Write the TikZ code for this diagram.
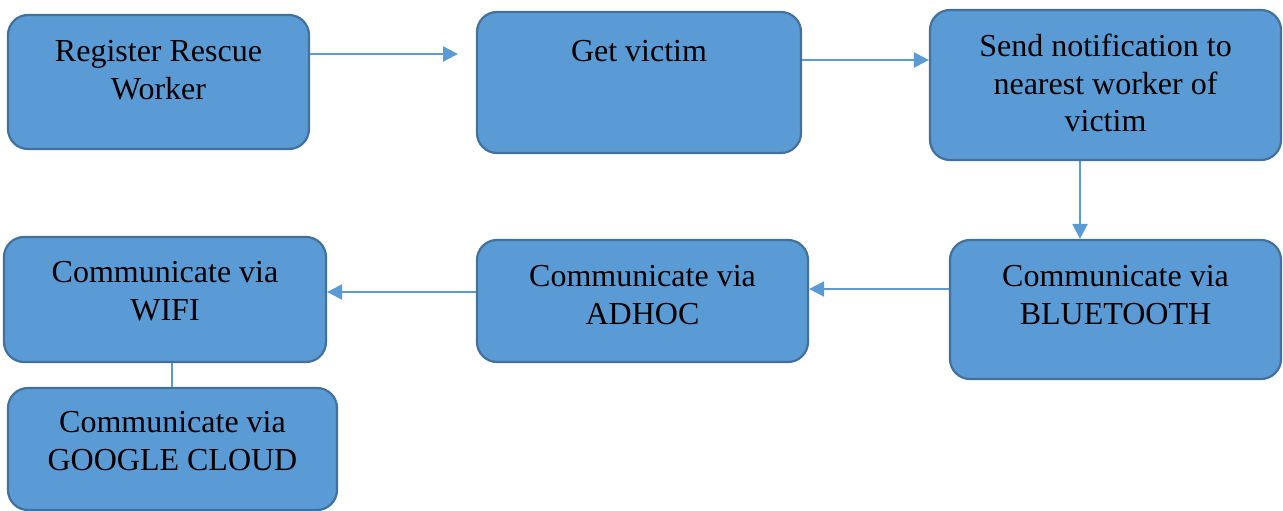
\documentclass[tikz,border=0pt]{standalone}
\usepackage{fontspec}
\setmainfont{Liberation Serif}
\usetikzlibrary{arrows.meta}
\definecolor{boxfill}{HTML}{5B9BD5}
\definecolor{boxline}{HTML}{41719C}
\definecolor{arrowc}{HTML}{5B9BD5}
\tikzset{
  box/.style={draw=boxline, fill=boxfill, line width=2.2pt, rounded corners=20pt, rectangle, inner sep=0pt},
  boxtext/.style={anchor=north, inner sep=0pt, align=center, font=\fontsize{32}{37.5}\selectfont},
  conn/.style={draw=arrowc, line width=2.3pt, -{Triangle[length=15pt,width=15pt]}},
  plainconn/.style={draw=arrowc, line width=2.3pt}
}
\begin{document}
\begin{tikzpicture}[x=1pt,y=-1pt]
\useasboundingbox (0,0) rectangle (1283,511);
% boxes
\node[box, minimum width=301pt, minimum height=134pt] (b1) at (158.5,82) {};
\node[box, minimum width=324pt, minimum height=141pt] (b2) at (639,82.5) {};
\node[box, minimum width=351pt, minimum height=150pt] (b3) at (1105.5,85) {};
\node[box, minimum width=331pt, minimum height=139pt] (b4) at (1115.5,309.5) {};
\node[box, minimum width=331pt, minimum height=122pt] (b5) at (642.5,301) {};
\node[box, minimum width=322pt, minimum height=125pt] (b6) at (165,299.5) {};
\node[box, minimum width=329pt, minimum height=122pt] (b7) at (172.5,449) {};
% texts (first baseline = top + offset; strut height 26.25)
\node[boxtext] (t1) at ([yshift=-21.5pt]b1.north) {\strut Register Rescue\\Worker};
\node[boxtext] (t2) at ([yshift=-24pt]b2.north) {\strut Get victim};
\node[boxtext] (t3) at ([yshift=-21.5pt]b3.north) {\strut Send notification to\\nearest worker of\\victim};
\node[boxtext] (t4) at ([yshift=-21.5pt]b4.north) {\strut Communicate via\\BLUETOOTH};
\node[boxtext] (t5) at ([yshift=-21.5pt]b5.north) {\strut Communicate via\\ADHOC};
\node[boxtext] (t6) at ([yshift=-20.5pt]b6.north) {\strut Communicate via\\WIFI};
\node[boxtext] (t7) at ([yshift=-19.5pt]b7.north) {\strut Communicate via\\GOOGLE CLOUD};
% connectors
\coordinate (e1) at (458,54);
\coordinate (y2) at (0,60);
\coordinate (x3) at (1080,0);
\coordinate (y4) at (0,289);
\coordinate (y5) at (0,292);
\coordinate (x6) at (172,0);
\draw[conn] (b1.east |- e1) -- (e1);
\draw[conn] (b2.east |- y2) -- (b3.west |- y2);
\draw[conn] (b3.south -| x3) -- (b4.north -| x3);
\draw[conn] (b4.west |- y4) -- (b5.east |- y4);
\draw[conn] (b5.west |- y5) -- (b6.east |- y5);
\draw[plainconn] (b6.south -| x6) -- (b7.north -| x6);
\end{tikzpicture}
\end{document}
